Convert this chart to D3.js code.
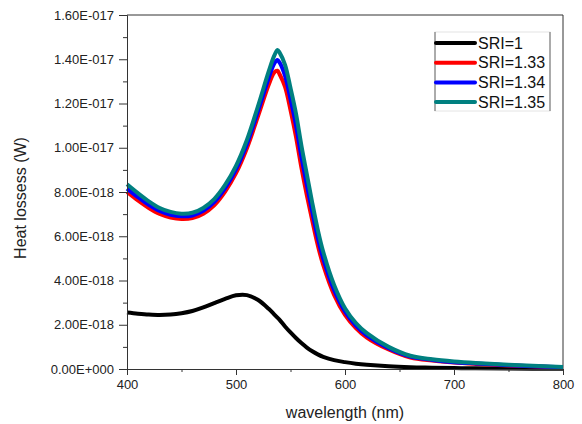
<!DOCTYPE html>
<html>
<head>
<meta charset="utf-8">
<script src="https://cdn.jsdelivr.net/npm/d3@7"></script>
<style>
  body { margin: 0; background: #fff; }
  svg { display: block; font-family: "Liberation Sans", Arial, sans-serif; }
</style>
</head>
<body>
<svg id="chart" width="582" height="424"></svg>
<script>
// wavelength (nm)
const wavelengths = [400,410,420,430,440,450,460,470,480,490,500,510,520,530,535,538,540,545,550,555,560,565,570,575,580,590,600,610,620,640,660,680,700,720,750,800];
// Heat losses in units of 1e-18 W
const sri1    = [2.55,2.50,2.46,2.44,2.46,2.52,2.62,2.78,2.98,3.17,3.33,3.34,3.13,2.72,2.47,2.32,2.22,1.92,1.65,1.40,1.17,0.97,0.80,0.66,0.55,0.40,0.31,0.24,0.19,0.12,0.08,0.06,0.04,0.03,0.02,0.01];
const sri133  = [8.00,7.62,7.28,7.01,6.85,6.78,6.82,7.02,7.40,8.02,8.85,9.98,11.40,12.85,13.40,13.48,13.32,12.75,11.70,10.50,9.10,7.85,6.70,5.60,4.70,3.35,2.45,1.85,1.42,0.88,0.52,0.38,0.29,0.23,0.16,0.07];
const sri134  = [8.15,7.77,7.42,7.14,6.97,6.90,6.94,7.15,7.54,8.17,9.02,10.17,11.63,13.15,13.80,13.97,13.85,13.25,12.20,11.02,9.60,8.32,7.10,5.95,5.00,3.57,2.60,1.96,1.52,0.94,0.56,0.41,0.31,0.25,0.17,0.08];
const sri135  = [8.35,7.95,7.58,7.28,7.10,7.02,7.06,7.28,7.68,8.32,9.18,10.35,11.85,13.45,14.15,14.42,14.30,13.75,12.70,11.55,10.10,8.80,7.50,6.30,5.30,3.80,2.75,2.08,1.62,1.00,0.60,0.44,0.34,0.27,0.19,0.09];

const seriesNames = ["SRI=1","SRI=1.33","SRI=1.34","SRI=1.35"];
const seriesColors = ["#000000","#ff0000","#0000ff","#008080"];
const seriesValues = [sri1, sri133, sri134, sri135];

const xTicks = [400,500,600,700,800];
const xMinor = [450,550,650,750];
const yTicks = [0,2,4,6,8,10,12,14,16];
const yTickLabels = ["0.00E+000","2.00E-018","4.00E-018","6.00E-018","8.00E-018","1.00E-017","1.20E-017","1.40E-017","1.60E-017"];
const yMinor = [1,3,5,7,9,11,13,15];

const svg = d3.select("#chart");
const mLeft = 127, mRight = 563, mTop = 15, mBottom = 369;

const x = d3.scaleLinear().domain([400,800]).range([mLeft,mRight]);
const y = d3.scaleLinear().domain([0,16]).range([mBottom,mTop]);

const axisColor = "#333";

// frame top & right
svg.append("line").attr("x1",mLeft).attr("x2",mRight).attr("y1",mTop).attr("y2",mTop)
  .attr("stroke",axisColor).attr("stroke-width",1);
svg.append("line").attr("x1",mRight).attr("x2",mRight).attr("y1",mTop).attr("y2",mBottom)
  .attr("stroke",axisColor).attr("stroke-width",1);

// curves
const line = d3.line()
  .x((d,i) => x(wavelengths[i]))
  .y(d => y(d))
  .curve(d3.curveCatmullRom.alpha(0.5));

const plot = svg.append("g");
seriesValues.forEach((vals, k) => {
  plot.append("path")
    .datum(vals)
    .attr("d", line)
    .attr("fill","none")
    .attr("stroke", seriesColors[k])
    .attr("stroke-width", 4)
    .attr("stroke-linejoin","round");
});

// x axis
svg.append("g").attr("transform",`translate(0,${mBottom})`)
  .call(d3.axisBottom(x).tickValues(xTicks).tickSize(6).tickPadding(5).tickFormat(d3.format("d")));
svg.append("g").attr("transform",`translate(0,${mBottom})`)
  .call(d3.axisBottom(x).tickValues(xMinor).tickSize(3).tickFormat(""))
  .call(g => g.select(".domain").remove());

// y axis
svg.append("g").attr("transform",`translate(${mLeft},0)`)
  .call(d3.axisLeft(y).tickValues(yTicks).tickSize(8).tickPadding(5).tickFormat((d,i) => yTickLabels[i]));
svg.append("g").attr("transform",`translate(${mLeft},0)`)
  .call(d3.axisLeft(y).tickValues(yMinor).tickSize(4).tickFormat(""))
  .call(g => g.select(".domain").remove());

svg.selectAll(".domain, .tick line").attr("stroke",axisColor);
svg.selectAll(".tick text").attr("fill","#222").style("font-size","13px")
  .style("font-family","'Liberation Sans', Arial, sans-serif");

// axis titles
svg.append("text").attr("x",(mLeft+mRight)/2).attr("y",418)
  .attr("text-anchor","middle").style("font-size","16px").attr("fill","#222")
  .text("wavelength (nm)");
svg.append("text").attr("transform",`translate(26,198) rotate(-90)`)
  .attr("text-anchor","middle").style("font-size","16px").attr("fill","#222")
  .text("Heat lossess (W)");

// legend
const lg = svg.append("g");
const lgX = 435, lgY0 = 43, lgDy = 19.7;
lg.append("rect").attr("x",lgX).attr("y",32).attr("width",115).attr("height",79)
  .attr("fill","none").attr("stroke","#e4e4e4").attr("stroke-width",1);
lg.append("line").attr("x1",lgX).attr("x2",lgX).attr("y1",32).attr("y2",111).attr("stroke","#666");
lg.append("line").attr("x1",lgX+115).attr("x2",lgX+115).attr("y1",32).attr("y2",111).attr("stroke","#666");
seriesNames.forEach((name,k) => {
  const yy = lgY0 + k*lgDy;
  lg.append("line").attr("x1",lgX+1).attr("x2",lgX+40).attr("y1",yy).attr("y2",yy)
    .attr("stroke",seriesColors[k]).attr("stroke-width",4).attr("stroke-linecap","round");
  lg.append("text").attr("x",lgX+43).attr("y",yy+5.5).style("font-size","16px").attr("fill","#111")
    .text(name);
});
</script>
</body>
</html>
